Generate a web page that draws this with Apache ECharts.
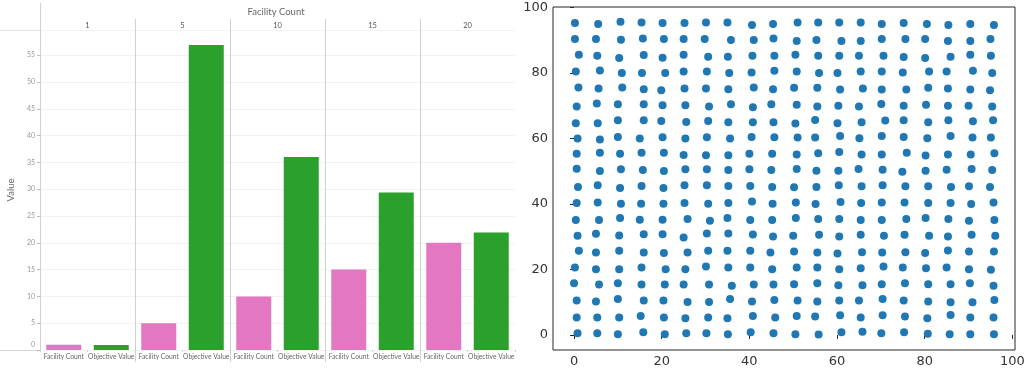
<!DOCTYPE html>
<html>
<head>
<meta charset="utf-8">
<script src="https://cdn.jsdelivr.net/npm/echarts@6/dist/echarts.min.js"></script>
<style>
html,body{margin:0;padding:0;background:#fff;}
#chart{width:1028px;height:375px;}
</style>
</head>
<body>
<div id="chart"></div>
<script>
// ---------- Left panel data (faceted bar chart) ----------
const facetLabels = ['1', '5', '10', '15', '20'];
const barCategories = ['Facility Count', 'Objective Value'];
const facilityCount = [1, 5, 10, 15, 20];
const objectiveValue = [0.95, 56.9, 36.0, 29.4, 21.9];
const barYMax = 59.7;
const barYInterval = 5;

// ---------- Right panel data (scatter) : rows from top (y≈95) to bottom (y≈0) ----------
const scatterX = [
  [0.2,5.5,10.6,15.4,20.2,25.2,30.1,35.0,40.6,45.4,51.0,55.7,60.5,65.4,70.2,75.2,80.5,85.4,90.4,95.8],
  [0.2,5.0,10.7,15.7,20.5,25.0,29.8,35.8,41.0,45.5,50.8,55.3,61.0,65.4,70.2,75.6,80.1,85.3,90.4,95.0],
  [1.1,5.3,10.3,15.9,20.2,25.0,30.6,35.1,40.7,45.7,50.5,55.7,60.5,65.0,70.6,75.2,80.1,85.9,90.4,95.1],
  [0.4,5.9,10.9,15.5,20.8,25.0,30.3,35.4,40.5,45.7,50.8,55.9,60.1,65.4,70.2,75.0,81.0,85.0,91.0,95.4],
  [1.0,5.6,11.0,15.9,19.9,25.2,30.1,35.2,41.0,45.4,50.2,55.5,60.7,65.9,70.2,75.8,80.8,85.3,90.4,94.9],
  [0.6,5.2,10.0,15.9,20.2,25.4,30.8,35.8,40.8,45.0,50.8,55.5,60.3,65.0,70.1,75.2,80.3,85.3,90.0,95.4],
  [0.4,5.4,10.0,15.9,19.9,25.6,30.6,35.2,40.8,45.5,50.5,55.0,60.1,65.6,71.0,75.2,80.8,85.4,91.0,95.6],
  [0.8,5.9,10.0,15.0,20.2,25.4,30.3,35.6,40.5,45.7,51.0,55.0,60.7,65.1,70.2,75.2,80.6,85.9,90.9,95.1],
  [0.6,5.9,10.5,15.4,20.5,25.0,30.1,35.2,40.0,45.2,50.8,55.7,60.5,65.6,70.2,75.9,80.2,85.3,90.5,95.9],
  [0.6,5.9,10.7,15.7,20.5,25.4,30.3,35.2,40.0,45.0,50.8,55.3,60.3,64.9,70.4,74.9,80.2,85.0,90.7,95.4],
  [0.9,5.4,10.5,15.4,20.4,25.2,30.3,35.2,40.2,45.2,50.2,55.3,60.4,65.6,70.4,75.6,80.8,86.0,90.1,94.9],
  [0.6,5.4,10.7,15.3,20.4,25.2,30.6,35.2,40.6,45.3,50.6,55.1,60.8,65.5,70.2,75.4,80.8,85.9,90.6,95.7],
  [0.4,5.7,10.5,15.0,20.2,25.9,31.0,35.0,40.2,45.2,50.6,55.7,60.5,65.4,70.2,75.8,80.2,85.4,90.1,95.9],
  [0.8,5.0,10.3,15.9,20.2,25.0,30.3,35.2,40.8,45.4,50.0,55.9,60.5,65.4,70.7,75.4,81.0,85.3,90.7,96.1],
  [1.1,5.0,10.3,15.9,20.5,25.9,30.6,35.0,40.2,44.8,50.2,55.5,60.1,65.7,70.3,75.6,80.1,85.3,90.1,95.8],
  [0.2,5.0,10.3,15.4,20.9,25.4,30.1,35.2,40.2,45.2,50.8,55.5,60.5,65.4,70.6,75.0,80.3,85.0,90.1,95.1],
  [0.0,5.7,10.0,15.4,20.7,25.0,30.8,36.0,41.0,45.5,50.2,55.5,60.3,65.8,70.2,75.5,80.8,85.9,90.3,95.7],
  [0.6,5.0,10.0,15.9,20.4,25.9,30.8,35.6,40.6,45.7,51.0,55.5,60.5,65.0,70.4,75.2,80.8,85.9,90.9,95.9],
  [0.6,5.3,10.3,15.2,20.5,25.4,30.6,35.0,40.8,45.9,50.8,55.0,60.7,65.4,70.4,75.5,80.6,85.9,90.4,95.7],
  [0.8,5.3,10.0,15.8,20.7,25.6,30.2,35.1,40.3,45.5,50.5,55.8,61.0,65.8,70.1,75.3,80.7,85.7,90.4,95.8]
];
const scatterY = [
  [95.3,95.0,95.7,95.5,95.3,95.3,95.5,95.5,94.7,95.0,95.5,95.5,95.5,95.5,95.0,95.3,95.0,94.7,95.0,94.7],
  [90.4,90.4,90.2,90.6,90.4,90.4,90.4,90.1,90.1,90.6,89.8,90.1,89.8,89.8,90.4,90.4,90.4,89.8,89.8,90.4],
  [85.6,85.3,84.6,85.5,84.7,85.6,85.0,85.0,85.3,85.3,85.6,85.3,85.3,85.3,85.3,84.9,84.6,85.0,85.6,85.3],
  [80.5,80.8,80.0,80.0,80.0,80.5,80.5,80.0,80.2,80.7,80.5,80.0,80.0,80.5,80.5,80.2,80.5,80.5,80.7,80.0],
  [75.6,75.3,75.6,75.1,74.8,75.3,75.3,75.1,75.6,75.1,75.5,75.5,75.0,75.3,75.0,75.0,75.5,75.3,75.0,74.8],
  [69.8,70.7,70.5,70.5,70.2,70.2,69.8,70.5,69.6,70.5,70.3,69.8,70.0,69.8,70.6,70.0,70.3,70.0,70.0,69.8],
  [64.7,64.7,65.6,65.6,65.4,65.1,65.4,65.0,65.0,65.0,64.6,65.7,64.7,65.0,65.5,65.6,65.0,65.6,65.3,65.6],
  [60.0,59.7,60.5,60.0,60.4,60.0,60.4,60.0,60.5,60.4,60.3,60.3,60.8,60.1,60.8,60.5,60.1,60.8,60.3,60.3],
  [55.4,55.7,55.4,55.7,55.7,55.0,54.9,54.9,55.4,55.4,55.1,55.5,55.9,55.1,55.1,55.7,54.8,55.1,55.1,55.5],
  [50.8,50.1,50.6,50.4,50.1,50.6,50.6,50.4,50.6,50.4,50.7,50.2,50.2,50.7,50.5,49.9,50.2,50.5,50.7,50.4],
  [45.2,45.7,44.9,45.5,44.9,45.7,45.7,45.5,45.5,45.2,45.1,45.2,45.7,45.4,45.7,45.4,45.4,45.2,45.4,45.2],
  [40.3,40.5,40.1,40.1,40.1,40.3,40.1,40.3,40.8,40.1,40.5,40.0,40.6,40.3,40.5,40.5,40.3,40.3,40.0,40.5],
  [35.1,35.1,35.7,35.2,35.2,35.4,34.9,35.7,35.1,35.1,35.7,35.4,35.4,35.1,35.1,35.4,35.7,35.4,34.9,35.1],
  [30.3,30.9,30.4,30.8,30.8,29.8,31.0,31.0,30.7,30.1,30.3,30.6,30.1,30.6,30.3,30.6,30.3,30.1,30.6,30.3],
  [25.7,25.2,25.7,25.2,25.0,25.2,25.7,25.7,25.7,25.2,25.5,25.2,24.9,25.3,25.2,25.3,25.0,25.8,25.5,25.5],
  [20.6,20.1,20.1,20.6,20.1,20.1,20.9,20.6,20.6,20.1,20.6,20.6,20.1,20.4,20.9,20.6,20.4,20.6,20.1,19.9],
  [15.8,15.4,15.8,15.4,15.4,15.4,15.4,15.0,15.4,15.4,15.5,15.8,15.2,15.2,15.5,15.8,15.5,15.5,15.8,15.0],
  [10.5,10.2,11.0,10.5,10.5,10.1,10.1,11.0,10.2,10.7,10.5,10.2,10.5,10.5,11.0,10.5,10.2,10.0,10.0,10.7],
  [5.3,5.3,5.3,5.8,5.3,5.1,5.3,5.1,5.8,5.3,5.8,5.6,6.0,5.3,6.0,5.6,5.1,6.1,5.3,5.3],
  [0.5,0.5,0.2,0.8,0.2,0.5,0.5,0.2,0.8,0.5,0.2,0.1,0.8,1.0,0.5,0.8,0.4,0.2,0.2,0.2]
];
const scatterTicks = [0, 20, 40, 60, 80, 100];
const scatterXRange = [-4.8, 100.6];
const scatterYRange = [-4.6, 100.2];

// ---------- Build option ----------
const PINK = '#e377c2', GREEN = '#2ca02c', BLUE = '#1f77b4';
const FONT = 'Lato, "Open Sans", sans-serif';
const facetLeft = 40, facetW = 95, barTop = 30, barBottomPx = 350, panelRight = 512;

const grids = [], xAxes = [], yAxes = [], series = [];

facetLabels.forEach((lab, i) => {
  grids.push({left: facetLeft + i * facetW, top: barTop, width: facetW, bottom: 375 - barBottomPx});
  // bottom category axis
  xAxes.push({
    type: 'category', gridIndex: i, data: barCategories,
    axisLine: {show: false},
    axisTick: {show: true, length: 2, lineStyle: {color: '#cfcfcf'}},
    axisLabel: {interval: 0, fontSize: 6.7, color: '#666', margin: 3, fontFamily: FONT}
  });
  // top facet header axis
  xAxes.push({
    type: 'category', gridIndex: i, data: [lab], position: 'top',
    axisLine: {show: false}, axisTick: {show: false},
    axisLabel: {fontSize: 7.5, color: '#555', margin: 0, fontFamily: FONT}
  });
  yAxes.push({
    type: 'value', gridIndex: i, min: 0, max: barYMax, interval: barYInterval,
    axisLine: {show: true, lineStyle: {color: '#d0d0d0', width: 1}},
    axisTick: {show: i === 0, length: 3, lineStyle: {color: '#bdbdbd'}},
    axisLabel: {
      show: i === 0, fontSize: 7, color: '#999', margin: 5, showMaxLabel: false, fontFamily: FONT,
      formatter: v => (v === 0 ? '{lift|0}' : String(v)),
      rich: {lift: {fontSize: 7, color: '#999', fontFamily: FONT, padding: [0, 0, 10, 0]}}
    },
    splitLine: {show: true, lineStyle: {color: '#f2f2f2'}},
    name: i === 0 ? 'Value' : '',
    nameLocation: 'middle', nameGap: 24, nameRotate: 90,
    nameTextStyle: {fontSize: 9.5, color: '#666', fontFamily: FONT}
  });
  series.push({
    type: 'bar', xAxisIndex: i * 2, yAxisIndex: i, barWidth: 35,
    data: [
      {value: facilityCount[i], itemStyle: {color: PINK}},
      {value: objectiveValue[i], itemStyle: {color: GREEN}}
    ],
    silent: true
  });
});

// scatter grid
const sIdx = facetLabels.length;
grids.push({left: 553, right: 13, top: 7, bottom: 25, show: true, borderColor: '#262626', borderWidth: 1, backgroundColor: 'transparent'});
const axisCommon = {
  type: 'value', gridIndex: sIdx,
  axisLine: {show: false},
  axisTick: {show: true, length: 4, customValues: scatterTicks, lineStyle: {color: '#262626'}},
  axisLabel: {customValues: scatterTicks, fontSize: 13, color: '#333', fontFamily: '"DejaVu Sans", sans-serif', margin: 5},
  splitLine: {show: false}
};
xAxes.push(Object.assign({}, axisCommon, {min: scatterXRange[0], max: scatterXRange[1]}));
yAxes.push(Object.assign({}, axisCommon, {min: scatterYRange[0], max: scatterYRange[1]}));
const scatterData = [];
scatterX.forEach((row, r) => row.forEach((x, c) => scatterData.push([x, scatterY[r][c]])));
series.push({
  type: 'scatter', xAxisIndex: xAxes.length - 1, yAxisIndex: yAxes.length - 1,
  symbolSize: 8, itemStyle: {color: BLUE, opacity: 1}, data: scatterData, silent: true
});

// decorative frame lines of the faceted panel
const lineStyle = c => ({stroke: c, lineWidth: 1});
const graphic = [
  {type: 'line', shape: {x1: 0, y1: barTop + 0.5, x2: panelRight, y2: barTop + 0.5}, style: lineStyle('#e3e3e3'), silent: true},
  {type: 'line', shape: {x1: 0, y1: barBottomPx + 0.5, x2: panelRight, y2: barBottomPx + 0.5}, style: lineStyle('#d6d6d6'), silent: true},
  {type: 'line', shape: {x1: facetLeft + 0.5, y1: 3, x2: facetLeft + 0.5, y2: barTop}, style: lineStyle('#d0d0d0'), silent: true}
];
for (let i = 1; i < facetLabels.length; i++) {
  const x = facetLeft + i * facetW + 0.5;
  graphic.push({type: 'line', shape: {x1: x, y1: 19, x2: x, y2: barTop}, style: lineStyle('#d0d0d0'), silent: true});
  graphic.push({type: 'line', shape: {x1: x, y1: barBottomPx, x2: x, y2: 362}, style: lineStyle('#d0d0d0'), silent: true});
}

const option = {
  animation: false,
  backgroundColor: '#fff',
  title: {
    text: 'Facility Count', left: (facetLeft + panelRight) / 2, top: 7, textAlign: 'center', padding: 0,
    textStyle: {fontSize: 9.5, color: '#666', fontWeight: 'normal', fontFamily: FONT}
  },
  grid: grids, xAxis: xAxes, yAxis: yAxes, series: series, graphic: graphic
};

const chart = echarts.init(document.getElementById('chart'), null, {renderer: 'canvas'});
chart.setOption(option);
</script>
</body>
</html>
